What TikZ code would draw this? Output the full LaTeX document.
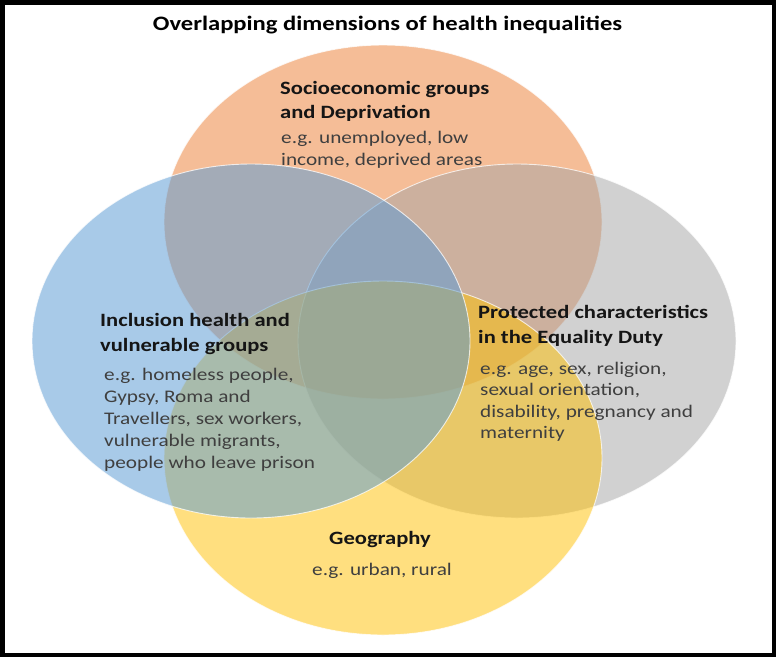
\documentclass[tikz,border=0pt]{standalone}
\usepackage{fontspec}
\setmainfont{Carlito}[FakeStretch=1.2]
\usetikzlibrary{shapes.geometric}

\definecolor{socioFill}{HTML}{ED7D31}
\definecolor{protFill}{HTML}{A5A5A5}
\definecolor{geoFill}{HTML}{FFC000}
\definecolor{inclFill}{HTML}{5B9BD5}
\definecolor{bodyGray}{HTML}{3F3F3F}
\definecolor{headBlack}{HTML}{151515}

\tikzset{
  setblob/.style={ellipse, minimum width=438pt, minimum height=354pt,
    inner sep=0pt, draw=white, line width=0.9pt, draw opacity=0.75,
    fill=#1, fill opacity=0.5},
  titletext/.style={font=\bfseries\fontsize{20.5}{24}\selectfont, text=black, inner sep=0pt},
  headtext/.style={font=\bfseries\fontsize{18.8}{24.5}\selectfont, text=headBlack,
    align=left, inner sep=0pt, anchor=base west},
  bodytext/.style={font=\fontsize{17.7}{22}\selectfont, text=bodyGray,
    align=left, inner sep=0pt, anchor=base west},
}

\begin{document}
\begin{tikzpicture}[x=1pt, y=-1pt]
  \useasboundingbox (0,0) rectangle (776,657);
  \fill[white] (0,0) rectangle (776,657);

  % the four overlapping sets, painted in stacking order
  \node[setblob=socioFill] (socio) at (383,222) {};
  \node[setblob=protFill]  (prot)  at (517,341) {};
  \node[setblob=geoFill]   (geo)   at (383,458) {};
  \node[setblob=inclFill, fill opacity=0.53] (incl) at (251,341) {};

  % title
  \node[titletext, anchor=base] (title) at (387.5,30) {Overlapping dimensions of health inequalities};

  % text blocks are placed by the baseline of their last line
  % socioeconomic set
  \node[headtext] (socioHead) at (280,118.5) {Socioeconomic groups\\and Deprivation};
  \node[bodytext] (socioBody) at (281,165) {e.g. unemployed, low\\income, deprived areas};

  % inclusion health set
  \node[headtext] (inclHead) at (100,351) {Inclusion health and\\vulnerable groups};
  \node[bodytext] (inclBody) at (104,468) {e.g. homeless people,\\Gypsy, Roma and\\Travellers, sex workers,\\vulnerable migrants,\\people who leave prison};

  % protected characteristics set
  \node[headtext, font=\bfseries\fontsize{18.8}{25}\selectfont] (protHead) at (478,343) {Protected characteristics\\in the Equality Duty};
  \node[bodytext, font=\fontsize{17.7}{21.5}\selectfont] (protBody) at (480,438.5) {e.g. age, sex, religion,\\sexual orientation,\\disability, pregnancy and\\maternity};

  % geography set
  \node[headtext, anchor=base] (geoHead) at (380,544) {Geography};
  \node[bodytext, anchor=base] (geoBody) at (382,575) {e.g. urban, rural};

  % outer frame
  \draw[black, line width=4.5pt] (2.25,2.25) rectangle (773.75,654.75);
\end{tikzpicture}
\end{document}
